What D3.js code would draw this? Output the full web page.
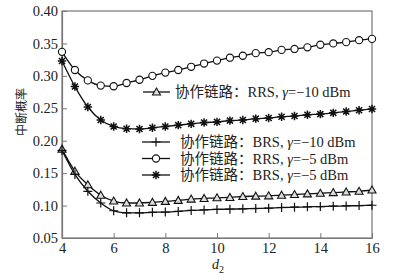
<!DOCTYPE html>
<html>
<head>
<meta charset="utf-8">
<script src="https://cdn.jsdelivr.net/npm/d3@7"></script>
<style>
body { margin: 0; background: #fff; }
text { font-family: "Liberation Serif", "Noto Sans CJK SC", serif; fill: #222; }
</style>
</head>
<body>
<div id="chart"></div>
<script>
// d2 values, 0.5 steps
const d2 = [4, 4.5, 5, 5.5, 6, 6.5, 7, 7.5, 8, 8.5, 9, 9.5, 10, 10.5, 11, 11.5, 12, 12.5, 13, 13.5, 14, 14.5, 15, 15.5, 16];

const rrs10 = [0.187, 0.153, 0.132, 0.116, 0.107, 0.104, 0.104, 0.105, 0.1065, 0.108, 0.110, 0.111, 0.112, 0.1125, 0.114, 0.1145, 0.115, 0.116, 0.117, 0.118, 0.119, 0.120, 0.121, 0.122, 0.124];
const brs10 = [0.185, 0.148, 0.122, 0.104, 0.092, 0.0888, 0.0888, 0.0897, 0.090, 0.091, 0.0925, 0.0933, 0.094, 0.0945, 0.095, 0.0955, 0.096, 0.097, 0.0975, 0.098, 0.0985, 0.099, 0.0995, 0.100, 0.1005];
const rrs5 = [0.337, 0.309, 0.293, 0.285, 0.284, 0.289, 0.294, 0.300, 0.305, 0.309, 0.314, 0.319, 0.3235, 0.328, 0.331, 0.335, 0.3365, 0.340, 0.3415, 0.344, 0.348, 0.350, 0.352, 0.355, 0.357];
const brs5 = [0.323, 0.2835, 0.252, 0.232, 0.222, 0.2185, 0.218, 0.220, 0.222, 0.224, 0.226, 0.228, 0.229, 0.231, 0.232, 0.234, 0.235, 0.237, 0.238, 0.240, 0.241, 0.243, 0.245, 0.247, 0.249];

const xTicks = [4, 6, 8, 10, 12, 14, 16];
const yTicks = [0.05, 0.10, 0.15, 0.20, 0.25, 0.30, 0.35, 0.40];

const series = [
    {name: "RRS, \u03b3=\u221210 dBm", values: rrs10, marker: "triangle"},
    {name: "BRS, \u03b3=\u221210 dBm", values: brs10, marker: "plus"},
    {name: "RRS, \u03b3=\u22125 dBm", values: rrs5, marker: "circle"},
    {name: "BRS, \u03b3=\u22125 dBm", values: brs5, marker: "star"}
];

const W = 399, H = 279;
const margin = {top: 11, right: 27, bottom: 41, left: 62};

const svg = d3.select("#chart").append("svg")
    .attr("width", W).attr("height", H);

const x = d3.scaleLinear().domain([4, 16]).range([margin.left, W - margin.right]);
const y = d3.scaleLinear().domain([0.05, 0.40]).range([H - margin.bottom, margin.top]);

const axisColor = "#777";

// frame
svg.append("rect")
    .attr("x", margin.left).attr("y", margin.top)
    .attr("width", x(16) - x(4)).attr("height", y(0.05) - y(0.40))
    .attr("fill", "none").attr("stroke", axisColor).attr("stroke-width", 1.2);

const xAxis = svg.append("g")
    .attr("transform", `translate(0,${y(0.05)})`)
    .call(d3.axisBottom(x).tickValues(xTicks).tickSizeInner(-5).tickSizeOuter(0).tickPadding(5));
const yAxis = svg.append("g")
    .attr("transform", `translate(${margin.left},0)`)
    .call(d3.axisLeft(y).tickValues(yTicks).tickFormat(d3.format(".2f")).tickSizeInner(-5).tickSizeOuter(0).tickPadding(4));

[xAxis, yAxis].forEach(a => {
    a.select(".domain").attr("stroke", axisColor).attr("stroke-width", 1.2);
    a.selectAll(".tick line").attr("stroke", axisColor);
    a.selectAll(".tick text").attr("font-size", 14.5).attr("font-family", "Liberation Serif").attr("fill", "#222");
});

// axis titles
svg.append("text")
    .attr("transform", `translate(26,112) rotate(-90)`)
    .attr("text-anchor", "middle")
    .attr("font-size", 12)
    .attr("fill", "#444")
    .text("中断概率");

const xl = svg.append("text")
    .attr("x", 212).attr("y", 269)
    .attr("font-size", 14).attr("font-style", "italic");
xl.append("tspan").text("d");
xl.append("tspan").attr("font-size", 10).attr("font-style", "normal").attr("dy", 4).text("2");

// markers
function drawMarker(g, type, cx, cy) {
    if (type === "circle") {
        g.append("circle").attr("cx", cx).attr("cy", cy).attr("r", 3.6)
            .attr("fill", "#fff").attr("stroke", "#111").attr("stroke-width", 1.1);
    } else if (type === "triangle") {
        const s = 4;
        g.append("path")
            .attr("d", `M${cx},${cy - s}L${cx + s},${cy + s * 0.75}L${cx - s},${cy + s * 0.75}Z`)
            .attr("fill", "#ddd").attr("stroke", "#111").attr("stroke-width", 1.1);
    } else if (type === "plus") {
        const s = 4.5;
        g.append("path")
            .attr("d", `M${cx - s},${cy}H${cx + s}M${cx},${cy - s}V${cy + s}`)
            .attr("stroke", "#111").attr("stroke-width", 1.2).attr("fill", "none");
    } else if (type === "star") {
        const s = 4.2, d = s * 0.72;
        g.append("path")
            .attr("d", `M${cx - s},${cy}H${cx + s}M${cx},${cy - s}V${cy + s}M${cx - d},${cy - d}L${cx + d},${cy + d}M${cx - d},${cy + d}L${cx + d},${cy - d}`)
            .attr("stroke", "#111").attr("stroke-width", 1.5).attr("fill", "none");
    }
}

const line = d3.line()
    .x((d, i) => x(d2[i]))
    .y(d => y(d))
    .curve(d3.curveMonotoneX);

series.forEach(s => {
    const g = svg.append("g");
    g.append("path").attr("d", line(s.values))
        .attr("fill", "none").attr("stroke", "#111").attr("stroke-width", 1.3);
    s.values.forEach((v, i) => drawMarker(g, s.marker, x(d2[i]), y(v)));
});

// legend
const legendRows = [
    {s: series[0], y: 92, x0: 143, x1: 170, tx: 175},
    {s: series[1], y: 142, x0: 142, x1: 170, tx: 180},
    {s: series[2], y: 158.5, x0: 142, x1: 170, tx: 180},
    {s: series[3], y: 175, x0: 142, x1: 170, tx: 180}
];
legendRows.forEach(r => {
    const g = svg.append("g");
    g.append("line").attr("x1", r.x0).attr("x2", r.x1).attr("y1", r.y).attr("y2", r.y)
        .attr("stroke", "#111").attr("stroke-width", 1.3);
    drawMarker(g, r.s.marker, (r.x0 + r.x1) / 2, r.y);
    const t = g.append("text").attr("x", r.tx).attr("y", r.y + 5).attr("font-size", 14.5);
    t.append("tspan").text("协作链路：");
    const parts = r.s.name.split("\u03b3");
    t.append("tspan").text(parts[0]);
    t.append("tspan").attr("font-style", "italic").text("\u03b3");
    t.append("tspan").text(parts[1]);
});
</script>
</body>
</html>
